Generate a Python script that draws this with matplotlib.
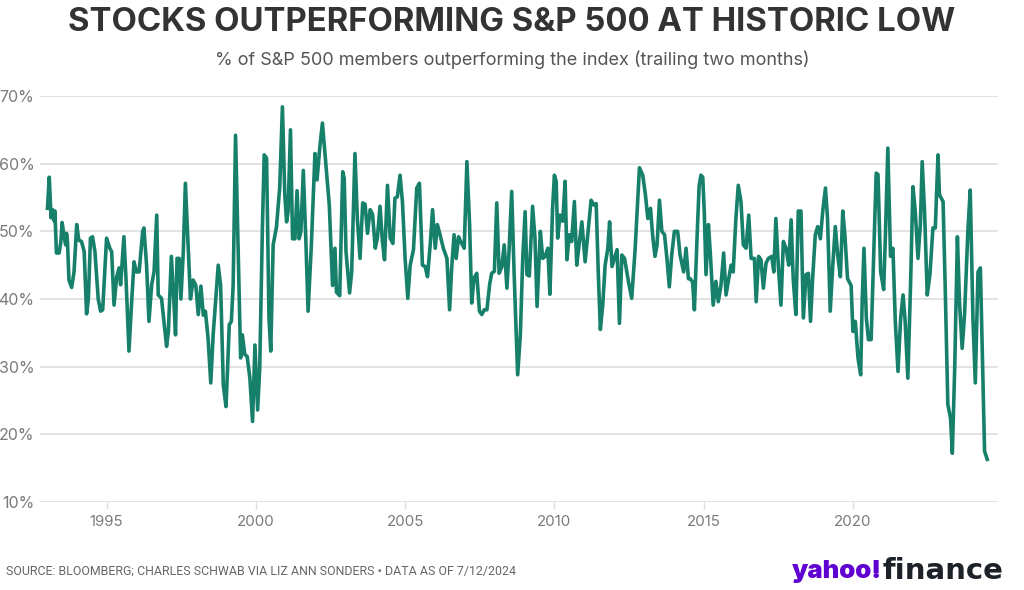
import matplotlib
matplotlib.use("Agg")
import matplotlib.pyplot as plt
from matplotlib.ticker import FuncFormatter

# decimal year, % of S&P 500 members outperforming the index
years = [
    1993.02, 1993.08, 1993.14, 1993.19, 1993.25, 1993.27, 1993.32, 1993.41, 1993.47, 1993.51,
    1993.58, 1993.63, 1993.66, 1993.69, 1993.74, 1993.83, 1993.91, 1994.00, 1994.07, 1994.16,
    1994.25, 1994.33, 1994.39, 1994.46, 1994.53, 1994.61, 1994.72, 1994.80, 1994.87, 1995.00,
    1995.11, 1995.17, 1995.25, 1995.34, 1995.42, 1995.47, 1995.58, 1995.65, 1995.75, 1995.84,
    1995.92, 1996.00, 1996.09, 1996.21, 1996.25, 1996.34, 1996.42, 1996.51, 1996.59, 1996.68,
    1996.73, 1996.84, 1997.01, 1997.07,
    1997.17, 1997.25, 1997.31, 1997.36, 1997.43, 1997.49, 1997.57, 1997.64, 1997.73, 1997.81,
    1997.90, 1997.99, 1998.07, 1998.16, 1998.24, 1998.31, 1998.40, 1998.49, 1998.57, 1998.74,
    1998.82, 1998.91, 1999.00, 1999.04, 1999.11, 1999.18, 1999.24, 1999.32, 1999.41, 1999.49,
    1999.55, 1999.63, 1999.71, 1999.80, 1999.89, 1999.97, 2000.06, 2000.13, 2000.22, 2000.28,
    2000.36, 2000.44, 2000.50, 2000.58, 2000.69, 2000.80, 2000.89, 2000.97, 2001.03, 2001.08,
    2001.16, 2001.23, 2001.31, 2001.38, 2001.45, 2001.51, 2001.59, 2001.68, 2001.75, 2001.86,
    2001.98, 2002.05, 2002.14, 2002.23, 2002.31, 2002.46, 2002.57, 2002.65, 2002.70, 2002.81,
    2002.91, 2002.96, 2003.02, 2003.14, 2003.21, 2003.32, 2003.40, 2003.49, 2003.58, 2003.66,
    2003.74, 2003.83, 2003.91, 2004.00, 2004.07, 2004.16, 2004.24, 2004.31, 2004.41, 2004.50,
    2004.59, 2004.66, 2004.74, 2004.83, 2004.91, 2005.00, 2005.09, 2005.17, 2005.28, 2005.39,
    2005.48, 2005.58, 2005.67, 2005.75, 2005.84, 2005.92, 2006.01, 2006.08, 2006.17, 2006.28,
    2006.40, 2006.49, 2006.56, 2006.64, 2006.71, 2006.79, 2006.86, 2006.98, 2007.07, 2007.16,
    2007.23, 2007.31, 2007.40, 2007.49, 2007.57, 2007.65, 2007.74, 2007.83, 2007.90, 2007.99,
    2008.07, 2008.15, 2008.24, 2008.32, 2008.41, 2008.48, 2008.57, 2008.65,
    2008.77, 2008.86, 2008.94, 2009.02, 2009.08, 2009.16, 2009.27, 2009.35, 2009.42, 2009.53,
    2009.61, 2009.69, 2009.78, 2009.85, 2009.94, 2010.00, 2010.06, 2010.11, 2010.19, 2010.28,
    2010.36, 2010.42, 2010.50, 2010.58, 2010.67, 2010.75, 2010.84, 2010.92, 2011.03, 2011.14,
    2011.23, 2011.32, 2011.40, 2011.47, 2011.54, 2011.62, 2011.70, 2011.79, 2011.85, 2011.93,
    2012.03, 2012.10, 2012.18, 2012.26, 2012.35, 2012.48, 2012.59, 2012.70, 2012.85, 2012.96,
    2013.05, 2013.13, 2013.22, 2013.29, 2013.37, 2013.44, 2013.52, 2013.60, 2013.69, 2013.77,
    2013.85, 2013.93, 2014.02, 2014.13, 2014.21,
    2014.33, 2014.41, 2014.49, 2014.55, 2014.63, 2014.69, 2014.78, 2014.85, 2014.91, 2014.97,
    2015.02, 2015.08, 2015.16, 2015.22, 2015.32, 2015.41, 2015.49, 2015.58, 2015.67, 2015.75,
    2015.84, 2015.92, 2015.99, 2016.08, 2016.16, 2016.25, 2016.33, 2016.42, 2016.51, 2016.59,
    2016.70, 2016.76, 2016.84, 2016.92, 2017.00, 2017.09, 2017.17, 2017.28, 2017.35, 2017.42,
    2017.50, 2017.59, 2017.67, 2017.76, 2017.85, 2017.93, 2018.00, 2018.09, 2018.17, 2018.26,
    2018.34, 2018.43, 2018.51, 2018.58, 2018.65, 2018.74, 2018.82, 2018.91, 2018.99, 2019.08,
    2019.15, 2019.24, 2019.32, 2019.41, 2019.49, 2019.58, 2019.66, 2019.73, 2019.82, 2019.94,
    2020.00,
    2020.08, 2020.17, 2020.26, 2020.31, 2020.37, 2020.45, 2020.52, 2020.61, 2020.70, 2020.78,
    2020.84, 2020.93, 2021.03, 2021.09, 2021.17, 2021.26, 2021.34, 2021.42, 2021.51, 2021.60,
    2021.68, 2021.75, 2021.84, 2021.93, 2022.01, 2022.09, 2022.18, 2022.26, 2022.32, 2022.40,
    2022.49, 2022.58, 2022.68, 2022.76, 2022.85, 2022.90, 2023.02, 2023.09, 2023.18, 2023.27,
    2023.33, 2023.41, 2023.50, 2023.57, 2023.66, 2023.74, 2023.85, 2023.93, 2024.02, 2024.10,
    2024.19, 2024.27, 2024.36, 2024.41, 2024.50,
]
pct = [
    53.4, 58.0, 52.0, 53.2, 51.5, 53.0, 46.8, 46.8, 48.5, 51.3,
    49.2, 48.0, 49.7, 48.5, 42.8, 41.7, 44.0, 51.0, 48.7, 48.5,
    47.0, 37.8, 40.0, 49.0, 49.2, 47.0, 40.0, 38.2, 38.4, 49.0,
    47.5, 47.0, 39.1, 43.3, 44.6, 42.1, 49.2, 43.1, 32.3, 39.6,
    45.5, 44.0, 44.0, 50.0, 50.5, 45.0, 36.7, 42.1, 44.0, 52.4,
    40.6, 40.1, 33.0, 35.2,
    46.3, 40.0, 34.7, 46.0, 46.0, 40.0, 47.0, 57.1, 48.0, 40.0,
    42.8, 42.0, 37.7, 41.9, 37.6, 38.2, 34.2, 27.6, 34.7, 45.0,
    42.0, 27.3, 24.1, 28.3, 36.2, 36.7, 42.0, 64.2, 47.0, 31.3,
    34.7, 31.8, 31.5, 28.3, 21.9, 33.2, 23.6, 29.8, 50.6, 61.3,
    60.8, 37.2, 32.3, 48.0, 50.6, 56.5, 68.4, 55.4, 51.4, 52.9,
    65.0, 48.9, 48.9, 56.0, 48.9, 50.0, 59.0, 48.0, 38.2, 48.0,
    61.5, 57.6, 62.3, 66.0, 61.8, 53.9, 42.0, 47.5, 41.0, 40.5,
    58.8, 57.8, 47.0, 40.9, 44.0, 61.5, 51.9, 46.0, 54.2, 54.0,
    49.7, 53.2, 52.5, 47.5, 49.0, 53.7, 48.5, 45.8, 56.8, 49.0,
    48.2, 54.9, 55.1, 58.3, 54.4, 46.0, 40.1, 45.0, 47.3, 56.4,
    57.1, 45.0, 44.8, 43.3, 48.0, 53.2, 47.5, 51.0, 49.5, 47.5,
    46.0, 38.4, 44.6, 49.5, 46.0, 49.2, 48.5, 47.5, 60.3, 51.0,
    39.4, 43.1, 43.8, 38.2, 37.7, 38.4, 38.4, 42.1, 43.8, 44.1,
    54.2, 43.8, 44.8, 48.0, 41.6, 47.0, 55.9, 44.0,
    28.8, 34.7, 46.0, 52.9, 43.6, 43.4, 53.7, 49.0, 38.9, 50.0,
    46.0, 46.3, 47.5, 40.7, 53.4, 58.3, 57.4, 49.0, 52.4, 51.5,
    57.4, 45.8, 49.5, 48.5, 54.4, 45.0, 48.5, 51.4, 45.5, 50.5,
    54.6, 53.9, 54.1, 44.0, 35.5, 39.1, 45.0, 47.5, 51.4, 44.8,
    46.3, 47.3, 36.4, 46.5, 46.0, 42.6, 40.1, 47.0, 59.4, 58.3,
    55.4, 51.9, 53.4, 49.5, 46.3, 48.0, 54.6, 50.0, 49.5, 46.0,
    41.8, 46.5, 50.0, 50.0, 46.5,
    44.0, 47.5, 43.0, 43.0, 42.5, 38.4, 49.2, 56.8, 58.3, 58.0,
    53.0, 43.6, 51.0, 47.0, 39.1, 42.6, 39.6, 42.0, 46.8, 40.6,
    43.0, 45.0, 44.0, 51.9, 56.8, 54.4, 48.0, 47.5, 52.4, 46.0,
    46.0, 39.6, 46.3, 45.8, 41.6, 45.3, 46.0, 46.3, 44.0, 51.9,
    45.0, 39.1, 48.5, 47.5, 45.0, 51.7, 43.0, 37.7, 53.0, 53.0,
    37.2, 43.6, 43.8, 36.7, 43.0, 49.5, 50.7, 48.9, 53.0, 56.4,
    51.9, 38.2, 44.6, 50.7, 46.5, 43.3, 53.0, 49.5, 43.0, 42.0,
    35.2,
    36.7, 31.3, 28.8, 39.6, 47.5, 37.2, 34.0, 34.0, 47.0, 58.6,
    58.4, 44.0, 41.4, 49.5, 62.3, 46.3, 47.5, 36.7, 29.3, 37.2,
    40.6, 36.7, 28.3, 42.0, 56.6, 52.9, 46.0, 51.0, 60.3, 52.9,
    40.6, 43.6, 50.5, 50.5, 61.3, 55.4, 54.4, 42.0, 24.4, 22.4,
    17.2, 29.8, 49.2, 39.6, 32.7, 37.7, 50.0, 56.1, 37.2, 27.6,
    44.0, 44.6, 27.3, 17.5, 16.3,
]

x_ticks = [1995, 2000, 2005, 2010, 2015, 2020]
y_ticks = [10, 20, 30, 40, 50, 60, 70]

title = "STOCKS OUTPERFORMING S&P 500 AT HISTORIC LOW"
subtitle = "% of S&P 500 members outperforming the index (trailing two months)"
source = "SOURCE: BLOOMBERG; CHARLES SCHWAB VIA LIZ ANN SONDERS \u2022 DATA AS OF 7/12/2024"

plt.rcParams["font.family"] = ["Inter", "DejaVu Sans"]

fig = plt.figure(figsize=(10.24, 5.9), dpi=100)
ax = fig.add_axes([40 / 1024, 1 - 502 / 590, 958 / 1024, 406 / 590])

ax.plot(years, pct, color="#17806a", lw=2.6, solid_joinstyle="round", zorder=3)

ax.set_xlim(1992.77, 2024.86)
ax.set_ylim(10, 70)
ax.set_xticks(x_ticks)
ax.set_yticks(y_ticks)
ax.yaxis.set_major_formatter(FuncFormatter(lambda v, p: f"{v:.0f}%"))
ax.grid(axis="y", color="#dedede", lw=1.2)
ax.set_axisbelow(True)
for s in ax.spines.values():
    s.set_visible(False)
ax.tick_params(axis="y", length=0, pad=4, labelsize=11.5, labelcolor="#7a7a7a")
ax.tick_params(axis="x", length=5, width=1, color="#dedede", pad=4,
               labelsize=10.8, labelcolor="#7a7a7a")

fig.text(0.5, 0.962, title, ha="center", va="center", fontsize=23.7,
         fontweight="bold", color="#333333")
fig.text(0.5, 0.898, subtitle, ha="center", va="center", fontsize=13,
         color="#555555")
fig.text(0.006, 0.031, source, ha="left", va="center", fontsize=8.95,
         family=["Roboto", "DejaVu Sans"], color="#666666")

logo = fig.text(0.773, 0.032, "yahoo!", ha="left", va="center", fontsize=18.5,
                fontweight="black", color="#6001d2")
ax.annotate("finance", xy=(1, 0.5), xycoords=logo, xytext=(0.5, 0),
            textcoords="offset points", ha="left", va="center",
            fontsize=21, fontweight="bold", family=["DejaVu Sans"],
            color="#1d2228", annotation_clip=False)

fig.savefig("out.png", dpi=100)
